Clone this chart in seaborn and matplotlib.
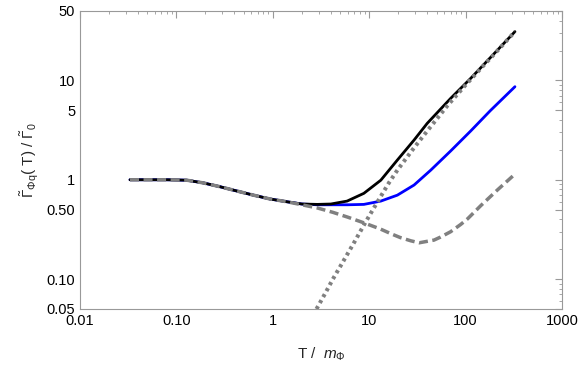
import numpy as np
import pandas as pd
import seaborn as sns
import matplotlib.pyplot as plt
from matplotlib.ticker import FixedLocator, FixedFormatter, LogLocator, NullFormatter

# values
T_low = [0.033, 0.05, 0.08, 0.128, 0.19, 0.285, 0.425, 0.63, 0.94, 1.41, 2.0]
v_low = [1.0, 1.0, 1.0, 0.99, 0.93, 0.85, 0.77, 0.70, 0.64, 0.60, 0.57]

T_black = T_low + [2.9, 4.0, 5.9, 8.8, 13.2, 19.6, 29.2, 40, 70, 113, 180, 325]
v_black = v_low + [0.565, 0.57, 0.61, 0.73, 0.99, 1.58, 2.51, 3.7, 6.6, 10.5, 16.9, 31]

T_blue = T_low + [2.9, 4.0, 6.0, 8.8, 13.2, 19.6, 29.2, 43.5, 70, 113, 180, 325]
v_blue = v_low + [0.56, 0.56, 0.56, 0.565, 0.61, 0.70, 0.885, 1.25, 1.95, 3.1, 4.95, 8.65]

T_dash = T_low + [2.9, 4.2, 6.0, 8.7, 13, 17, 21, 27, 33, 47, 55, 70, 89, 105, 144, 214, 325]
v_dash = v_low[:-1] + [0.56, 0.52, 0.47, 0.42, 0.37, 0.32, 0.285, 0.262, 0.243, 0.232, 0.247, 0.265, 0.30, 0.355, 0.405, 0.55, 0.79, 1.14]

T_dot = [2.84, 3.5, 4.2, 5.4, 7, 9.1, 12.2, 16, 19.6, 29.2, 40, 65, 100, 150, 220, 325]
v_dot = [0.05, 0.072, 0.10, 0.152, 0.235, 0.37, 0.60, 0.93, 1.25, 2.1, 3.1, 5.6, 9.0, 13.8, 20.5, 31]

sns.set_style("white")
plt.rcParams['font.family'] = ['Liberation Sans', 'DejaVu Sans']
plt.rcParams['mathtext.fontset'] = 'custom'
plt.rcParams['mathtext.rm'] = 'Liberation Sans'
plt.rcParams['mathtext.it'] = 'Liberation Sans:italic'

fig = plt.figure(figsize=(5.81, 3.70), dpi=100)
ax = fig.add_axes([80 / 581, 1 - 309 / 370, 482 / 581, 298 / 370])

gray = '#808080'
sns.lineplot(x=T_blue, y=v_blue, ax=ax, color='#0000ff', lw=2, sort=False, zorder=2)
sns.lineplot(x=T_black, y=v_black, ax=ax, color='black', lw=2, sort=False, zorder=3)
sns.lineplot(x=T_dash, y=v_dash, ax=ax, color=gray, lw=2.5, sort=False, zorder=4,
             linestyle=(0, (2.6, 1.3)))
sns.lineplot(x=T_dot, y=v_dot, ax=ax, color=gray, lw=2.9, sort=False, zorder=5,
             linestyle=(0, (0.8, 0.9)))

ax.set_xscale('log')
ax.set_yscale('log')
ax.set_xlim(0.01, 1000)
ax.set_ylim(0.05, 50)

xt = [0.01, 0.1, 1, 10, 100, 1000]
ax.xaxis.set_major_locator(FixedLocator(xt))
ax.xaxis.set_major_formatter(FixedFormatter(['0.01', '0.10', '1', '10', '100', '1000']))
yt = [0.05, 0.1, 0.5, 1, 5, 10, 50]
ax.yaxis.set_major_locator(FixedLocator(yt))
ax.yaxis.set_major_formatter(FixedFormatter(['0.05', '0.10', '0.50', '1', '5', '10', '50']))
ax.xaxis.set_minor_locator(LogLocator(base=10, subs=np.arange(2, 10)))
ax.yaxis.set_minor_locator(LogLocator(base=10, subs=np.arange(2, 10)))
ax.xaxis.set_minor_formatter(NullFormatter())
ax.yaxis.set_minor_formatter(NullFormatter())

ax.tick_params(which='both', direction='in', top=True, right=True, color='#999999',
               labelsize=10.5, labelcolor='black')
ax.tick_params(which='major', length=5, width=0.8)
ax.tick_params(which='minor', length=2.5, width=0.6)
for s in ax.spines.values():
    s.set_color('#999999')
    s.set_linewidth(0.8)

ax.set_xlabel(r'T /  $m_{\Phi}$', fontsize=11, labelpad=13)
ax.set_ylabel(r'$\tilde{\Gamma}_{\Phi \mathrm{q}}$( T) / $\tilde{\Gamma}_0$', fontsize=11, labelpad=4)

fig.savefig('out.png', dpi=100)
